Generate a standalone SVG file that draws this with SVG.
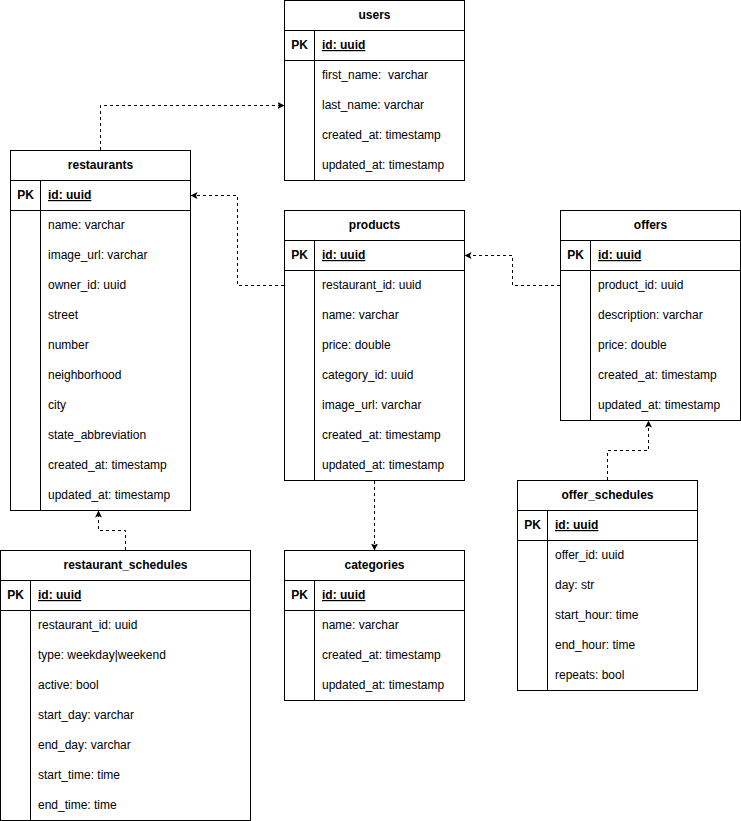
<svg xmlns="http://www.w3.org/2000/svg" width="741" height="821" viewBox="0 0 741 821">
<defs>
<style>
.box{fill:#fff;stroke:#000;stroke-width:1}
.ln{stroke:#000;stroke-width:1;fill:none}
.t{font-family:"Liberation Sans",Arial,sans-serif;font-size:12px;fill:#000;white-space:pre}
.h{font-weight:bold;text-anchor:middle}
.pk{font-weight:bold;text-anchor:middle}
.id{font-weight:bold;text-decoration:underline}
.c{stroke:#000;stroke-width:1;fill:none;stroke-dasharray:3 3}
</style>
<marker id="arr" markerUnits="userSpaceOnUse" markerWidth="10" markerHeight="10" refX="7" refY="4" orient="auto">
<path d="M0,0.5 L7,4 L0,7.5 L1.5,4 z" fill="#000"/>
</marker>
</defs>
<rect width="741" height="821" fill="#fff"/>

<g id="connectors">
<path class="c" d="M100.5,150 V105.5 H284.5" marker-end="url(#arr)"/>
<path class="c" d="M284,285.5 H237.5 V195.5 H190.5" marker-end="url(#arr)"/>
<path class="c" d="M560,285.5 H512.5 V255.5 H464.5" marker-end="url(#arr)"/>
<path class="c" d="M374.5,481 V550.5" marker-end="url(#arr)"/>
<path class="c" d="M125.5,550 V530.5 H98.5 V510.5" marker-end="url(#arr)"/>
<path class="c" d="M607.5,480 V450.5 H648.5 V420.5" marker-end="url(#arr)"/>
</g>

<g id="users">
<rect class="box" x="284.5" y="0.5" width="180" height="180"/>
<path class="ln" d="M284.5,30.5 H464.5 M284.5,60.5 H464.5 M314.5,30.5 V180.5"/>
<text class="t h" x="374.5" y="19">users</text>
<text class="t pk" x="299.5" y="49">PK</text>
<text class="t id" x="322" y="49">id: uuid</text>
<text class="t" x="322" y="79">first_name:  varchar</text>
<text class="t" x="322" y="109">last_name: varchar</text>
<text class="t" x="322" y="139">created_at: timestamp</text>
<text class="t" x="322" y="169">updated_at: timestamp</text>
</g>

<g id="restaurants">
<rect class="box" x="10.5" y="150.5" width="180" height="360"/>
<path class="ln" d="M10.5,180.5 H190.5 M10.5,210.5 H190.5 M40.5,180.5 V510.5"/>
<text class="t h" x="100.5" y="169">restaurants</text>
<text class="t pk" x="25.5" y="199">PK</text>
<text class="t id" x="48" y="199">id: uuid</text>
<text class="t" x="48" y="229">name: varchar</text>
<text class="t" x="48" y="259">image_url: varchar</text>
<text class="t" x="48" y="289">owner_id: uuid</text>
<text class="t" x="48" y="319">street</text>
<text class="t" x="48" y="349">number</text>
<text class="t" x="48" y="379">neighborhood</text>
<text class="t" x="48" y="409">city</text>
<text class="t" x="48" y="439">state_abbreviation</text>
<text class="t" x="48" y="469">created_at: timestamp</text>
<text class="t" x="48" y="499">updated_at: timestamp</text>
</g>

<g id="products">
<rect class="box" x="284.5" y="210.5" width="180" height="270"/>
<path class="ln" d="M284.5,240.5 H464.5 M284.5,270.5 H464.5 M314.5,240.5 V480.5"/>
<text class="t h" x="374.5" y="229">products</text>
<text class="t pk" x="299.5" y="259">PK</text>
<text class="t id" x="322" y="259">id: uuid</text>
<text class="t" x="322" y="289">restaurant_id: uuid</text>
<text class="t" x="322" y="319">name: varchar</text>
<text class="t" x="322" y="349">price: double</text>
<text class="t" x="322" y="379">category_id: uuid</text>
<text class="t" x="322" y="409">image_url: varchar</text>
<text class="t" x="322" y="439">created_at: timestamp</text>
<text class="t" x="322" y="469">updated_at: timestamp</text>
</g>

<g id="offers">
<rect class="box" x="560.5" y="210.5" width="180" height="210"/>
<path class="ln" d="M560.5,240.5 H740.5 M560.5,270.5 H740.5 M590.5,240.5 V420.5"/>
<text class="t h" x="650.5" y="229">offers</text>
<text class="t pk" x="575.5" y="259">PK</text>
<text class="t id" x="598" y="259">id: uuid</text>
<text class="t" x="598" y="289">product_id: uuid</text>
<text class="t" x="598" y="319">description: varchar</text>
<text class="t" x="598" y="349">price: double</text>
<text class="t" x="598" y="379">created_at: timestamp</text>
<text class="t" x="598" y="409">updated_at: timestamp</text>
</g>

<g id="offer_schedules">
<rect class="box" x="517.5" y="480.5" width="180" height="210"/>
<path class="ln" d="M517.5,510.5 H697.5 M517.5,540.5 H697.5 M547.5,510.5 V690.5"/>
<text class="t h" x="607.5" y="499">offer_schedules</text>
<text class="t pk" x="532.5" y="529">PK</text>
<text class="t id" x="555" y="529">id: uuid</text>
<text class="t" x="555" y="559">offer_id: uuid</text>
<text class="t" x="555" y="589">day: str</text>
<text class="t" x="555" y="619">start_hour: time</text>
<text class="t" x="555" y="649">end_hour: time</text>
<text class="t" x="555" y="679">repeats: bool</text>
</g>

<g id="restaurant_schedules">
<rect class="box" x="0.5" y="550.5" width="250" height="270"/>
<path class="ln" d="M0.5,580.5 H250.5 M0.5,610.5 H250.5 M30.5,580.5 V820.5"/>
<text class="t h" x="125.5" y="569">restaurant_schedules</text>
<text class="t pk" x="15.5" y="599">PK</text>
<text class="t id" x="38" y="599">id: uuid</text>
<text class="t" x="38" y="629">restaurant_id: uuid</text>
<text class="t" x="38" y="659">type: weekday|weekend</text>
<text class="t" x="38" y="689">active: bool</text>
<text class="t" x="38" y="719">start_day: varchar</text>
<text class="t" x="38" y="749">end_day: varchar</text>
<text class="t" x="38" y="779">start_time: time</text>
<text class="t" x="38" y="809">end_time: time</text>
</g>

<g id="categories">
<rect class="box" x="284.5" y="550.5" width="180" height="150"/>
<path class="ln" d="M284.5,580.5 H464.5 M284.5,610.5 H464.5 M314.5,580.5 V700.5"/>
<text class="t h" x="374.5" y="569">categories</text>
<text class="t pk" x="299.5" y="599">PK</text>
<text class="t id" x="322" y="599">id: uuid</text>
<text class="t" x="322" y="629">name: varchar</text>
<text class="t" x="322" y="659">created_at: timestamp</text>
<text class="t" x="322" y="689">updated_at: timestamp</text>
</g>
</svg>
